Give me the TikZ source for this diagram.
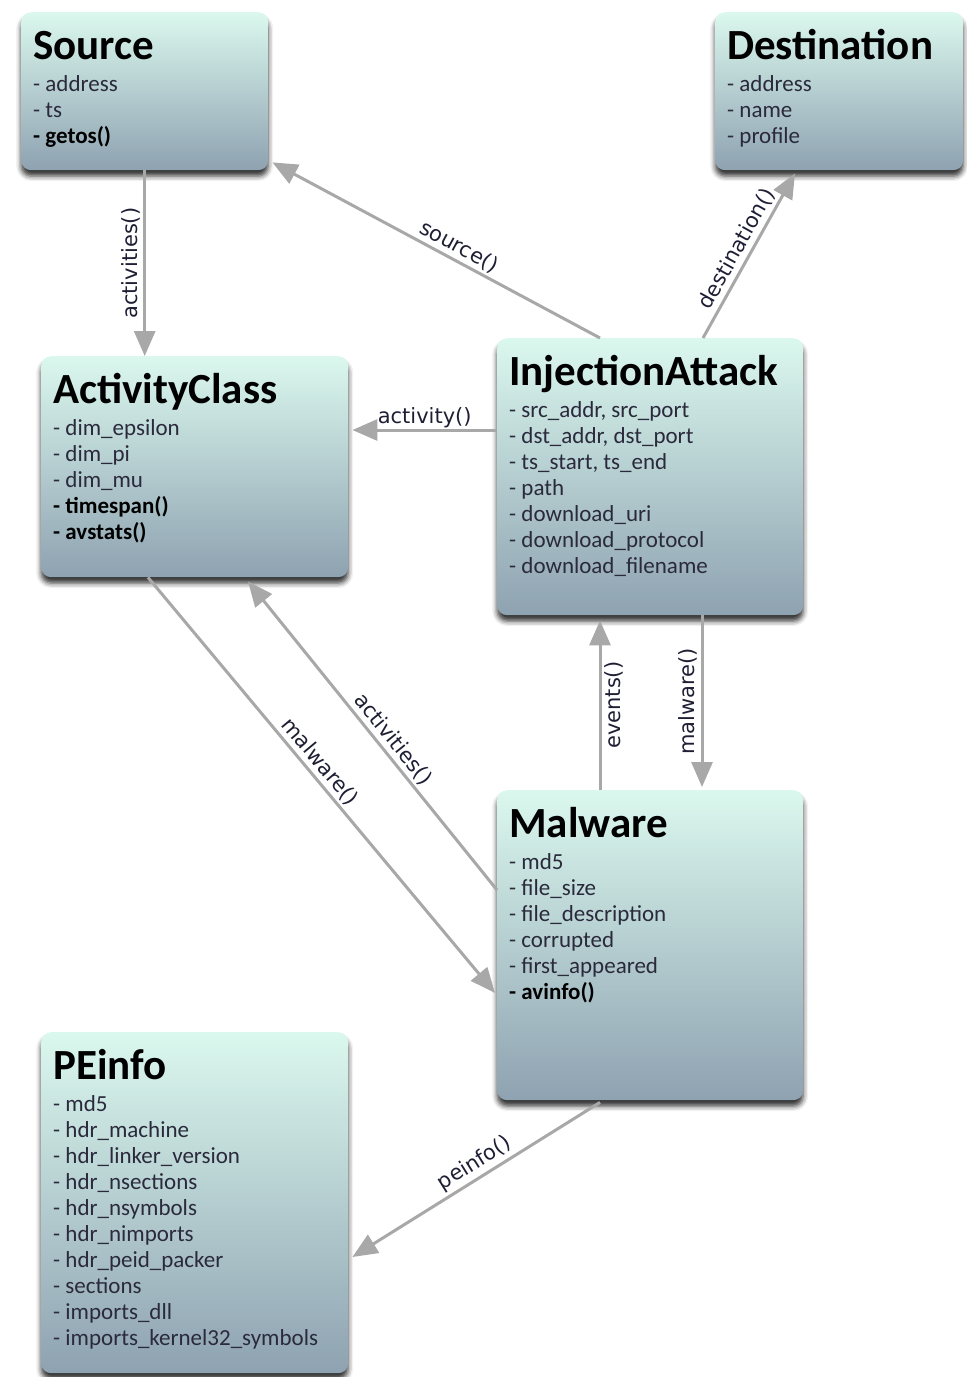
\documentclass[tikz,border=0pt]{standalone}
\usepackage{fontspec}
\setmainfont{Carlito}
\newfontfamily\labelfont{DejaVu Sans}
\usetikzlibrary{arrows.meta,shadows.blur}

\definecolor{boxtop}{HTML}{DBF8EE}
\definecolor{boxbot}{HTML}{8EA2B1}
\definecolor{attrcol}{HTML}{2A2A3C}
\definecolor{linkgray}{HTML}{A8A8A8}
\definecolor{lblcol}{HTML}{1E1E34}

% one class: rounded shaded box, bold title, list of members
\newcommand{\umlbox}[7]{%
  \node[classbox, minimum width=#4pt, minimum height=#5pt, anchor=north west] (#1) at (#2,#3) {};
  \node[titletext, anchor=base west] (#1-title) at ([xshift=12pt,yshift=-47pt]#1.north west) {#6};
  \node[attrtext, anchor=base west] (#1-attrs) at ([yshift=-32pt]#1-title.base west)
    {\begin{tabular}[t]{@{}l@{}}#7\end{tabular}};
}
\newcommand{\op}[1]{\textcolor{black}{\bfseries #1}}

\begin{document}
\begin{tikzpicture}[x=1pt,y=-1pt,
  classbox/.style={rounded corners=10pt, top color=boxtop, bottom color=boxbot, inner sep=0pt,
    blur shadow={shadow xshift=0pt, shadow yshift=-6pt, shadow blur radius=5pt, shadow opacity=80}},
  titletext/.style={inner sep=0pt, font=\fontsize{43}{43}\selectfont\bfseries, text=black},
  attrtext/.style={inner sep=0pt, font=\fontsize{23}{26}\selectfont, text=attrcol},
  link/.style={draw=linkgray, line width=3pt, -{Triangle[length=25pt,width=21pt]}},
  lbl/.style={font=\labelfont\fontsize{21}{21}\selectfont, text=lblcol, inner sep=3pt}]

\useasboundingbox (0,0) rectangle (967,1377);

\umlbox{src}{21}{12}{247}{158}{Source}{- address\\- ts\\\op{- getos()}}
\umlbox{dst}{715}{12}{248}{158}{Destination}{- address\\- name\\- profile}
\umlbox{ac}{41}{356}{307}{221}{ActivityClass}{- dim\_epsilon\\- dim\_pi\\- dim\_mu\\\op{- timespan()}\\\op{- avstats()}}
\umlbox{ia}{497}{338}{306}{277}{InjectionAttack}{- src\_addr, src\_port\\- dst\_addr, dst\_port\\- ts\_start, ts\_end\\- path\\- download\_uri\\- download\_protocol\\- download\_filename}
\umlbox{mw}{497}{790}{306}{310}{Malware}{- md5\\- file\_size\\- file\_description\\- corrupted\\- first\_appeared\\\op{- avinfo()}}
\umlbox{pe}{41}{1032}{307}{341}{PEinfo}{- md5\\- hdr\_machine\\- hdr\_linker\_version\\- hdr\_nsections\\- hdr\_nsymbols\\- hdr\_nimports\\- hdr\_peid\_packer\\- sections\\- imports\_dll\\- imports\_kernel32\_symbols}

% associations
\draw[link] (src.south) -- (src.south |- ac.north)
  node[lbl, midway, rotate=90, anchor=south] {activities()};

\draw[link] ([xshift=103pt]ia.north west) -- ([xshift=4pt,yshift=8pt]src.south east)
  node[lbl, pos=0.45, sloped, above] {source()};

\draw[link] ([xshift=206pt]ia.north west) -- ([xshift=80pt,yshift=-3pt]dst.south west)
  node[lbl, midway, sloped, above] {destination()};

\coordinate (iaout) at ([yshift=-92pt]ia.north west);
\coordinate (acin) at ([xshift=4pt]ac.east);
\draw[link] (iaout) -- (acin |- iaout)
  node[lbl, midway, anchor=base, yshift=7pt] {activity()};

\draw[link] ([yshift=-100pt]mw.north west) -- ([xshift=207pt,yshift=-4pt]ac.south west)
  node[lbl, pos=0.46, sloped, above] {activities()};

\draw[link] ([xshift=107pt]ac.south west) -- ([xshift=-2pt,yshift=-203pt]mw.north west)
  node[lbl, pos=0.465, sloped, above] {malware()};

\draw[link] ([xshift=103pt]mw.north west) -- ([xshift=103pt,yshift=-5pt]ia.south west)
  node[lbl, midway, rotate=90, anchor=north] {events()};

\draw[link] ([xshift=205pt]ia.south west) -- ([xshift=205pt,yshift=3pt]mw.north west)
  node[lbl, midway, rotate=90, anchor=south] {malware()};

\draw[link] ([xshift=103pt,yshift=-2pt]mw.south west) -- ([xshift=4pt,yshift=-225pt]pe.north east)
  node[lbl, pos=0.475, sloped, above] {peinfo()};

\end{tikzpicture}
\end{document}
